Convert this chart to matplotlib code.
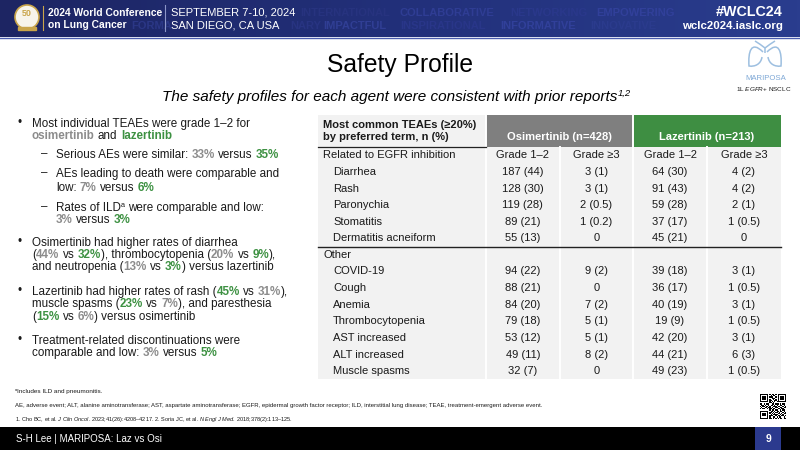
import numpy as np
import matplotlib
matplotlib.use("Agg")
import matplotlib.pyplot as plt
from matplotlib.colors import LinearSegmentedColormap
from matplotlib.patches import Rectangle, Circle, PathPatch
from matplotlib.path import Path

plt.rcParams['font.family'] = ['Liberation Sans', 'DejaVu Sans']
plt.rcParams['mathtext.fontset'] = 'custom'
plt.rcParams['mathtext.rm'] = 'Liberation Sans'
plt.rcParams['mathtext.it'] = 'Liberation Sans:italic'

# table data
egfr_terms = ["Diarrhea", "Rash", "Paronychia", "Stomatitis", "Dermatitis acneiform"]
egfr_osi_g12 = [(187, 44), (128, 30), (119, 28), (89, 21), (55, 13)]
egfr_osi_g3 = [(3, 1), (3, 1), (2, 0.5), (1, 0.2), (0, None)]
egfr_laz_g12 = [(64, 30), (91, 43), (59, 28), (37, 17), (45, 21)]
egfr_laz_g3 = [(4, 2), (4, 2), (2, 1), (1, 0.5), (0, None)]

other_terms = ["COVID-19", "Cough", "Anemia", "Thrombocytopenia", "AST increased",
               "ALT increased", "Muscle spasms"]
other_osi_g12 = [(94, 22), (88, 21), (84, 20), (79, 18), (53, 12), (49, 11), (32, 7)]
other_osi_g3 = [(9, 2), (0, None), (7, 2), (5, 1), (5, 1), (8, 2), (0, None)]
other_laz_g12 = [(39, 18), (36, 17), (40, 19), (19, 9), (42, 20), (44, 21), (49, 23)]
other_laz_g3 = [(3, 1), (1, 0.5), (3, 1), (1, 0.5), (3, 1), (6, 3), (1, 0.5)]

arm_labels = ["Osimertinib (n=428)", "Lazertinib (n=213)"]
grade_labels = ["Grade 1\u20132", "Grade \u22653", "Grade 1\u20132", "Grade \u22653"]

TXT = '#1a1a1a'
GRY = '#8c8c8c'
GRN = '#3d9142'

fig = plt.figure(figsize=(8, 4.5), dpi=100)
ax = fig.add_axes([0, 0, 1, 1])
ax.axis('off')
ax.set_xlim(0, 800)
ax.set_ylim(450, 0)
r = fig.canvas.get_renderer()


def seg_width(s, **kw):
    t = ax.text(0, 0, "|" + s + "|", **kw)
    w1 = t.get_window_extent(r).width
    t.remove()
    t = ax.text(0, 0, "||", **kw)
    w0 = t.get_window_extent(r).width
    t.remove()
    return w1 - w0


def rich(x, y, parts, size):
    # parts: (text, color, weight, style, sup); y is the middle of the capitals
    px = size * 100 / 72
    base = y + 0.36 * px
    for p in parts:
        txt, col, wt = p[0], p[1], p[2]
        st = p[3] if len(p) > 3 else 'normal'
        sup = p[4] if len(p) > 4 else False
        fs = size * 0.62 if sup else size
        yy = base - 0.4 * px if sup else base
        kw = dict(fontsize=fs, color=col, fontweight=wt, fontstyle=st)
        core = txt.lstrip(' ')
        lead = len(txt) - len(core)
        dx = seg_width(' ' * lead, **kw) if lead else 0
        ax.text(x + dx, yy, core.rstrip(' '), ha='left', va='baseline', **kw)
        x += seg_width(txt, **kw)
    return x


# header band
hdr = LinearSegmentedColormap.from_list('hdr', ['#1d2563', '#22307a', '#2a3d8e'])
ax.imshow(np.linspace(0, 1, 256)[None, :], extent=[0, 800, 37, 0], cmap=hdr, aspect='auto')
ax.plot([0, 800], [37.5, 37.5], color='#4a5cae', lw=1)

faded = [("INTERNATIONAL", 300, 13, '#27337f'), ("COLLABORATIVE", 400, 13, '#2f3d94'),
         ("NETWORKING", 510, 13, '#2a388b'), ("EMPOWERING", 596, 13, '#31409a'),
         ("FORMA", 131, 26, '#2b3786'), ("NARY", 290, 26, '#283482'),
         ("IMPACTFUL", 323, 26, '#303e94'), ("INSPIRATIONAL", 400, 26, '#293689'),
         ("INFORMATIVE", 500, 26, '#31409a'), ("INNOVATIVE", 590, 26, '#2b3b8d')]
for w, x, y, c in faded:
    ax.text(x, y, w, color=c, fontsize=8, fontweight='bold', va='center', ha='left')

# conference logo
ax.add_patch(Circle((27, 17), 12, facecolor='#f7f4ea', edgecolor='#c9a54a', lw=1.2, zorder=3))
ax.text(27, 13, "50", fontsize=6.5, fontweight='bold', color='#c9a54a', ha='center', va='center', zorder=4)
ax.add_patch(Rectangle((18, 27), 18, 3, color='#c9a54a', zorder=4))
ax.plot([43, 43], [6, 30], color='#c9a54a', lw=0.8, zorder=4)
ax.text(48, 12.5, "2024 World Conference", fontsize=7.4, fontweight='bold', color='white', va='center', zorder=4)
ax.text(48, 25, "on Lung Cancer", fontsize=7.4, fontweight='bold', color='white', va='center', zorder=4)
ax.plot([165, 165], [5, 31], color='#8c96c8', lw=0.8, zorder=4)
ax.text(171, 12.5, "SEPTEMBER 7-10, 2024", fontsize=8, color='white', va='center', zorder=4)
ax.text(171, 25, "SAN DIEGO, CA USA", fontsize=8, color='white', va='center', zorder=4)
ax.text(783, 12, "#WCLC24", fontsize=10.3, fontweight='bold', color='white', ha='right', va='center')
ax.text(783, 26, "wclc2024.iaslc.org", fontsize=8.2, fontweight='bold', color='white', ha='right', va='center')

# title
ax.text(400, 65, "Safety Profile", fontsize=17.7, color='black', ha='center', va='center')
rich(162, 96, [("The safety profiles for each agent were consistent with prior reports", 'black', 'normal', 'italic'),
               ("1,2", 'black', 'normal', 'italic', True)], 11)

# MARIPOSA logo
lc = '#9dbfe0'
ax.add_patch(PathPatch(Path([(755, 41), (760, 44), (765, 48), (765, 53)],
                            [Path.MOVETO, Path.CURVE3, Path.CURVE3, Path.LINETO]), fill=False, ec=lc, lw=1.1))
ax.add_patch(PathPatch(Path([(775, 41), (770, 44), (765, 48)],
                            [Path.MOVETO, Path.CURVE3, Path.CURVE3]), fill=False, ec=lc, lw=1.1))
for s in (-1, 1):
    pts = [(765 + 2 * s, 52), (765 + 14 * s, 40), (765 + 17 * s, 52), (765 + 16 * s, 66),
           (765 + 10 * s, 67), (765 + 4 * s, 64), (765 + 3 * s, 57)]
    ax.add_patch(PathPatch(Path(pts, [Path.MOVETO, Path.CURVE4, Path.CURVE4, Path.CURVE4,
                                      Path.CURVE4, Path.CURVE4, Path.CURVE4]), fill=False, ec=lc, lw=1.1))
ax.text(766, 79, "MARIPOSA", fontsize=5.6, color='#7fa8d6', ha='center', va='center')
ax.text(764, 89, r"1L $\mathit{EGFR}$+ NSCLC", fontsize=4.6, color=TXT, ha='center', va='center')

# bullets
bullets = [
    (123, 32, '•', [("Most individual TEAEs were grade 1\u20132 for", TXT, 'normal')]),
    (135, 32, None, [("osimertinib", GRY, 'bold'), (" and ", TXT, 'normal'), ("lazertinib", GRN, 'bold')]),
    (154, 56, '–', [("Serious AEs were similar: ", TXT, 'normal'), ("33%", GRY, 'bold'),
                    (" versus ", TXT, 'normal'), ("35%", GRN, 'bold')]),
    (173, 56, '–', [("AEs leading to death were comparable and", TXT, 'normal')]),
    (187, 56, None, [("low: ", TXT, 'normal'), ("7%", GRY, 'bold'), (" versus ", TXT, 'normal'),
                     ("6%", GRN, 'bold')]),
    (207, 56, '–', [("Rates of ILD", TXT, 'normal'), ("a", TXT, 'normal', 'normal', True),
                    (" were comparable and low:", TXT, 'normal')]),
    (219, 56, None, [("3%", GRY, 'bold'), (" versus ", TXT, 'normal'), ("3%", GRN, 'bold')]),
    (242, 32, '•', [("Osimertinib had higher rates of diarrhea", TXT, 'normal')]),
    (254, 32, None, [("(", TXT, 'normal'), ("44%", GRY, 'bold'), (" vs ", TXT, 'normal'), ("32%", GRN, 'bold'),
                     ("), thrombocytopenia (", TXT, 'normal'), ("20%", GRY, 'bold'), (" vs ", TXT, 'normal'),
                     ("9%", GRN, 'bold'), ("),", TXT, 'normal')]),
    (266, 32, None, [("and neutropenia (", TXT, 'normal'), ("13%", GRY, 'bold'), (" vs ", TXT, 'normal'),
                     ("3%", GRN, 'bold'), (") versus lazertinib", TXT, 'normal')]),
    (291, 32, '•', [("Lazertinib had higher rates of rash (", TXT, 'normal'), ("45%", GRN, 'bold'),
                    (" vs ", TXT, 'normal'), ("31%", GRY, 'bold'), ("),", TXT, 'normal')]),
    (303, 32, None, [("muscle spasms (", TXT, 'normal'), ("23%", GRN, 'bold'), (" vs ", TXT, 'normal'),
                     ("7%", GRY, 'bold'), ("), and paresthesia", TXT, 'normal')]),
    (316, 32, None, [("(", TXT, 'normal'), ("15%", GRN, 'bold'), (" vs ", TXT, 'normal'), ("6%", GRY, 'bold'),
                     (") versus osimertinib", TXT, 'normal')]),
    (340, 32, '•', [("Treatment-related discontinuations were", TXT, 'normal')]),
    (352, 32, None, [("comparable and low: ", TXT, 'normal'), ("3%", GRY, 'bold'), (" versus ", TXT, 'normal'),
                     ("5%", GRN, 'bold')]),
]
for y, x, mark, parts in bullets:
    if mark == '•':
        ax.text(18, y, mark, fontsize=8.4, color=TXT, va='center')
    elif mark == '–':
        ax.text(41, y, mark, fontsize=8.4, color=TXT, va='center')
    rich(x, y, parts, 8.4)

# table
tl, tr = 318, 781
cols = [486, 559.5, 633, 707, 781]
top, hb, rh = 115, 147, 16.6
rows = [("Related to EGFR inhibition", None)]
rows += [(t, (a, b, c, d)) for t, a, b, c, d in zip(egfr_terms, egfr_osi_g12, egfr_osi_g3, egfr_laz_g12, egfr_laz_g3)]
rows += [("Other", None)]
rows += [(t, (a, b, c, d)) for t, a, b, c, d in zip(other_terms, other_osi_g12, other_osi_g3, other_laz_g12, other_laz_g3)]
bottom = hb + rh * len(rows)

ax.add_patch(Rectangle((tl, top), cols[0] - tl, hb - top, color='#f2f2f2', lw=0))
ax.add_patch(Rectangle((cols[0], top), cols[2] - cols[0], hb - top, color='#7f7f7f', lw=0))
ax.add_patch(Rectangle((cols[2], top), cols[4] - cols[2], hb - top, color='#3e8e42', lw=0))
ax.add_patch(Rectangle((tl, hb), tr - tl, bottom - hb, color='#f2f2f2', lw=0))
for cx in cols[:4]:
    ax.plot([cx, cx], [top if cx in (cols[0], cols[2]) else hb, bottom], color='white', lw=1.4)
ax.plot([tl, cols[0]], [hb, hb], color='#222222', lw=0.9)
ax.text(323, 125, "Most common TEAEs (\u226520%)", fontsize=8, fontweight='bold', color=TXT, va='center')
ax.text(323, 137, "by preferred term, n (%)", fontsize=8, fontweight='bold', color=TXT, va='center')
for i, lab in enumerate(arm_labels):
    ax.text((cols[2 * i] + cols[2 * i + 2]) / 2, 137, lab, fontsize=8, fontweight='bold', color='white',
            ha='center', va='center')


def fmt(v):
    n, p = v
    return str(n) if p is None else f"{n} ({p:g})"


for i, (lab, vals) in enumerate(rows):
    y = hb + rh * (i + 0.5)
    head = vals is None
    ax.text(323 if head else 333, y, lab, fontsize=8, color=TXT, va='center')
    if i == 0:
        for j, g in enumerate(grade_labels):
            ax.text((cols[j] + cols[j + 1]) / 2, y, g, fontsize=8, color=TXT, ha='center', va='center')
    if vals is not None:
        for j, v in enumerate(vals):
            ax.text((cols[j] + cols[j + 1]) / 2, y, fmt(v), fontsize=8, color=TXT, ha='center', va='center')
sep = hb + rh * (1 + len(egfr_terms))
ax.plot([tl, tr], [sep, sep], color='#222222', lw=1)

# footnotes
rich(15, 391, [("a", TXT, 'normal', 'normal', True), ("Includes ILD and pneumonitis.", TXT, 'normal')], 4.6)
ax.text(15, 406, "AE, adverse event; ALT, alanine aminotransferase; AST, aspartate aminotransferase; "
        "EGFR, epidermal growth factor receptor; ILD, interstitial lung disease; TEAE, treatment-emergent adverse event.",
        fontsize=4.35, color=TXT, va='center')
ax.text(15, 419, r"1. Cho BC, et al. $\mathit{J\ Clin\ Oncol}$. 2023;41(26):4208–4217. "
        r"2. Soria JC, et al. $\mathit{N\ Engl\ J\ Med}$. 2018;378(2):113–125.",
        fontsize=4.1, color=TXT, va='center')

# QR code
qr = ["1111111010110101111111",
      "1000001001011001000001",
      "1011101011100101011101",
      "1011101000111001011101",
      "1011101010010101011101",
      "1000001011001101000001",
      "1111111010101011111111",
      "0000000011010000000000",
      "1101011100110111010110",
      "0110100101101010011010",
      "1011011010011101100101",
      "0100110110100110011011",
      "1011001011011001101100",
      "0000000010110110010110",
      "1111111001101011011010",
      "1000001011010110100101",
      "1011101010101001101011",
      "1011101001011110010100",
      "1011101011100101101101",
      "1000001010011010110010",
      "1111111011010101011011",
      "0000000000000000000000"]
qs = 26 / len(qr[0])
for i, row in enumerate(qr):
    for j, c in enumerate(row):
        if c == '1':
            ax.add_patch(Rectangle((760 + j * qs, 394 + i * qs), qs, qs, color='black', lw=0))

# footer bar
ax.add_patch(Rectangle((0, 427), 800, 23, color='black', lw=0))
ax.add_patch(Rectangle((755, 427), 26, 23, color='#2b3a8e', lw=0))
ax.text(16, 439, "S-H Lee | MARIPOSA: Laz vs Osi", fontsize=7.0, color='white', va='center')
ax.text(768, 439, "9", fontsize=7.4, fontweight='bold', color='white', ha='center', va='center')

ax.set_xlim(0, 800)
ax.set_ylim(450, 0)
fig.savefig("out.png", dpi=100)
